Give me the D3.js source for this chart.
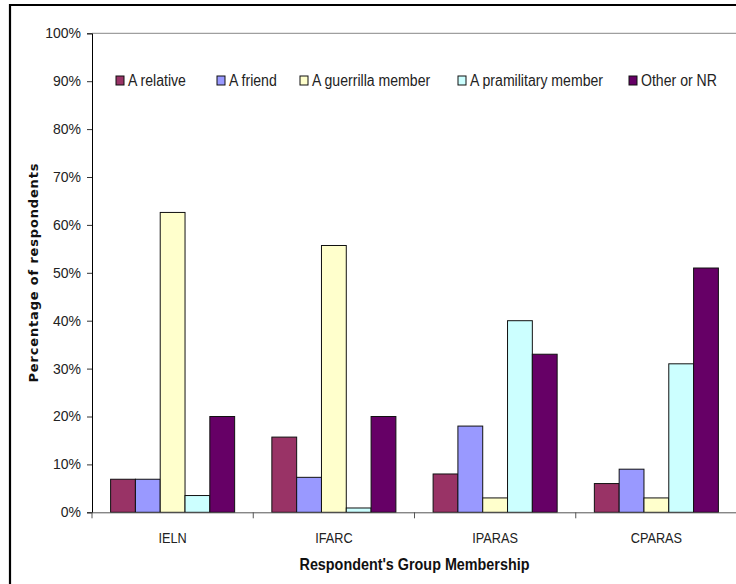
<!DOCTYPE html>
<html>
<head>
<meta charset="utf-8">
<script src="https://cdn.jsdelivr.net/npm/d3@7/dist/d3.min.js"></script>
<style>
  html, body { margin: 0; padding: 0; background: #fff; }
  svg { display: block; }
  .tick text { font-family: "Liberation Sans", Arial, sans-serif; }
</style>
</head>
<body>
<div id="chart"></div>
<script>
// Who respondents named, by group membership (share of respondents)
const categories = ["IELN", "IFARC", "IPARAS", "CPARAS"];
const seriesNames = ["A relative", "A friend", "A guerrilla member", "A pramilitary member", "Other or NR"];
const seriesColors = ["#993366", "#9999FF", "#FFFFCC", "#CCFFFF", "#660066"];
const relative    = [0.069, 0.157, 0.080, 0.060];
const friend      = [0.069, 0.073, 0.180, 0.090];
const guerrilla   = [0.626, 0.557, 0.030, 0.030];
const paramilitary= [0.035, 0.009, 0.400, 0.310];
const otherNR     = [0.200, 0.200, 0.330, 0.510];
const yTicks = [0, 0.1, 0.2, 0.3, 0.4, 0.5, 0.6, 0.7, 0.8, 0.9, 1.0];

const seriesValues = [relative, friend, guerrilla, paramilitary, otherNR];

const W = 736, H = 584;
const svg = d3.select("#chart").append("svg")
  .attr("width", W).attr("height", H);

svg.append("rect").attr("width", W).attr("height", H).attr("fill", "#fff");

// narrow-style text: Arial-metric font, condensed horizontally
function condense(factor) {
  return sel => sel.each(function () {
    const w = this.getComputedTextLength();
    d3.select(this).attr("textLength", w * factor).attr("lengthAdjust", "spacingAndGlyphs");
  });
}

// outer chart frame (continues past the right and bottom edges)
svg.append("path")
  .attr("d", `M10,${H + 5} L10,5 L${W + 5},5`)
  .attr("fill", "none").attr("stroke", "#000").attr("stroke-width", 2.2);

const plot = { left: 92, right: 737, top: 33.3, bottom: 512.3 };

const x0 = d3.scaleBand().domain(categories).range([plot.left, plot.right]).padding(0);
const x1 = d3.scaleBand().domain(seriesNames).range([0, x0.bandwidth()])
  .paddingInner(0).paddingOuter(0.75);
const y = d3.scaleLinear().domain([0, 1]).range([plot.bottom, plot.top]);

// plot area top border
svg.append("line")
  .attr("x1", plot.left).attr("x2", W + 5)
  .attr("y1", y(1)).attr("y2", y(1))
  .attr("stroke", "#888").attr("stroke-width", 1);

// bars
const groups = svg.append("g").selectAll("g")
  .data(categories)
  .join("g")
  .attr("transform", d => `translate(${x0(d)},0)`);

groups.selectAll("rect")
  .data((c, ci) => seriesNames.map((s, si) => ({ s, si, v: seriesValues[si][ci] })))
  .join("rect")
  .attr("x", d => x1(d.s))
  .attr("y", d => y(d.v))
  .attr("width", x1.bandwidth())
  .attr("height", d => y(0) - y(d.v))
  .attr("fill", d => seriesColors[d.si])
  .attr("stroke", "#111")
  .attr("stroke-width", 1);

// y axis
const yAxis = svg.append("g")
  .attr("transform", `translate(${plot.left},0)`)
  .call(d3.axisLeft(y).tickValues(yTicks).tickFormat(d3.format(".0%")).tickSize(5).tickPadding(6));
yAxis.select(".domain").attr("stroke", "#000");
yAxis.selectAll(".tick line").attr("stroke", "#333");
yAxis.selectAll(".tick text").attr("font-size", 14).attr("fill", "#222");

// x axis
const xAxis = svg.append("g")
  .attr("transform", `translate(0,${plot.bottom})`)
  .call(d3.axisBottom(x0).tickSize(0).tickPadding(0).tickFormat(""));
xAxis.select(".domain").attr("stroke", "#555");

// category separators as tick marks
const seps = categories.map(c => x0(c)).concat([x0.range()[1]]);
svg.append("g").selectAll("line")
  .data(seps)
  .join("line")
  .attr("x1", d => d).attr("x2", d => d)
  .attr("y1", plot.bottom).attr("y2", plot.bottom + 6)
  .attr("stroke", "#555");

// category labels
svg.append("g").selectAll("text")
  .data(categories)
  .join("text")
  .attr("x", d => x0(d) + x0.bandwidth() / 2)
  .attr("y", 543)
  .attr("text-anchor", "middle")
  .attr("font-family", "'Liberation Sans', Arial, sans-serif")
  .attr("font-size", 15.5)
  .attr("fill", "#222")
  .text(d => d)
  .call(condense(0.82));

// axis titles
svg.append("text")
  .attr("x", (plot.left + plot.right) / 2)
  .attr("y", 570)
  .attr("text-anchor", "middle")
  .attr("font-family", "'Liberation Sans', Arial, sans-serif")
  .attr("font-weight", "bold")
  .attr("font-size", 16.5)
  .attr("fill", "#111")
  .text("Respondent's Group Membership")
  .call(condense(0.87));

svg.append("text")
  .attr("transform", `translate(38,273) rotate(-90)`)
  .attr("text-anchor", "middle")
  .attr("font-family", "'DejaVu Sans', Verdana, sans-serif")
  .attr("font-weight", "bold")
  .attr("font-size", 13)
  .attr("fill", "#111")
  .attr("textLength", 219)
  .attr("lengthAdjust", "spacing")
  .text("Percentage of respondents");

// legend
const legendX = [116, 217, 300, 458, 629];
const legend = svg.append("g").selectAll("g")
  .data(seriesNames)
  .join("g")
  .attr("transform", (d, i) => `translate(${legendX[i]},76)`);
legend.append("rect")
  .attr("width", 8).attr("height", 9)
  .attr("fill", (d, i) => seriesColors[i])
  .attr("stroke", "#111").attr("stroke-width", 1);
legend.append("text")
  .attr("x", 12).attr("y", 10)
  .attr("font-family", "'Liberation Sans', Arial, sans-serif")
  .attr("font-size", 16)
  .attr("fill", "#222")
  .text(d => d)
  .call(condense(0.88));
</script>
</body>
</html>
